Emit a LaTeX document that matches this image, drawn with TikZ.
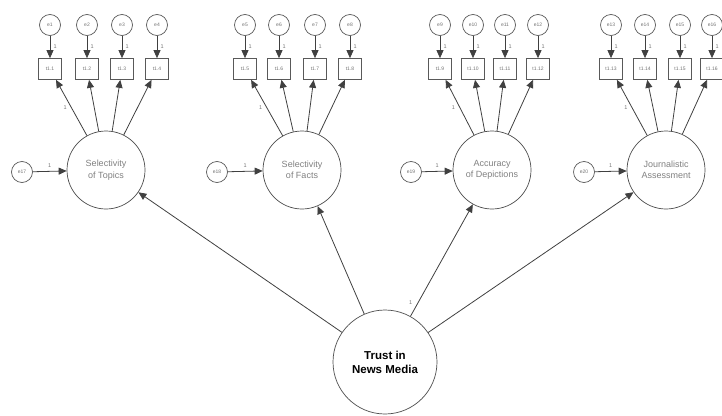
\documentclass[tikz,border=0pt]{standalone}
\usepackage{fontspec}
\setmainfont{Liberation Sans}
\usetikzlibrary{arrows.meta}
\begin{document}
\begin{tikzpicture}[x=1pt,y=-1pt,
    err/.style={circle,draw=black!65,line width=.7pt,minimum size=21pt,inner sep=0pt,font=\fontsize{5}{6}\selectfont,text=black!55},
    ind/.style={rectangle,draw=black!65,line width=.7pt,minimum width=23pt,minimum height=21pt,inner sep=0pt,font=\fontsize{5}{6}\selectfont,text=black!55},
    lat/.style={circle,draw=black!70,line width=.7pt,minimum size=78pt,inner sep=0pt,align=center,font=\fontsize{9}{11.5}\selectfont,text=black!50},
    pth/.style={-{Triangle[length=8pt,width=7pt]},draw=black!75,line width=.8pt},
    one/.style={font=\fontsize{5.5}{6}\selectfont,text=black!55}]
        \useasboundingbox (0,0) rectangle (722,415);

        % first factor
        \node[err] (e1) at (50,25) {e1};
        \node[err] (e2) at (87,25) {e2};
        \node[err] (e3) at (122,25) {e3};
        \node[err] (e4) at (157,25) {e4};
        \node[ind] (t1) at (50,69) {t1.1};
        \node[ind] (t2) at (87,69) {t1.2};
        \node[ind] (t3) at (122,69) {t1.3};
        \node[ind] (t4) at (157,69) {t1.4};
        \node[lat] (topics) at (106,170) {Selectivity\\of Topics};
        \node[err] (e17) at (22,172) {e17};

        % second factor
        \node[err] (e5) at (245,25) {e5};
        \node[err] (e6) at (279,25) {e6};
        \node[err] (e7) at (315,25) {e7};
        \node[err] (e8) at (350,25) {e8};
        \node[ind] (t5) at (245,69) {t1.5};
        \node[ind] (t6) at (279,69) {t1.6};
        \node[ind] (t7) at (315,69) {t1.7};
        \node[ind] (t8) at (350,69) {t1.8};
        \node[lat] (facts) at (302,170) {Selectivity\\of Facts};
        \node[err] (e18) at (217,172) {e18};

        % third factor
        \node[err] (e9) at (440,25) {e9};
        \node[err] (e10) at (473,25) {e10};
        \node[err] (e11) at (505,25) {e11};
        \node[err] (e12) at (538,25) {e12};
        \node[ind] (t9) at (440,69) {t1.9};
        \node[ind] (t10) at (473,69) {t1.10};
        \node[ind] (t11) at (505,69) {t1.11};
        \node[ind] (t12) at (538,69) {t1.12};
        \node[lat] (depict) at (492,170) {Accuracy\\of Depictions};
        \node[err] (e19) at (411,172) {e19};

        % fourth factor
        \node[err] (e13) at (611,25) {e13};
        \node[err] (e14) at (645,25) {e14};
        \node[err] (e15) at (680,25) {e15};
        \node[err] (e16) at (712,25) {e16};
        \node[ind] (t13) at (611,69) {t1.13};
        \node[ind] (t14) at (645,69) {t1.14};
        \node[ind] (t15) at (680,69) {t1.15};
        \node[ind] (t16) at (712,69) {t1.16};
        \node[lat] (assess) at (666,170) {Journalistic\\Assessment};
        \node[err] (e20) at (584,172) {e20};

        \node[lat,minimum size=104pt,font=\fontsize{11.5}{14}\selectfont\bfseries,text=black] (trust) at (385,362) {Trust in\\News Media};

        % errors to indicators
        \draw[pth] (e1) -- node[one,right] {1} (t1);
        \draw[pth] (e2) -- node[one,right] {1} (t2);
        \draw[pth] (e3) -- node[one,right] {1} (t3);
        \draw[pth] (e4) -- node[one,right] {1} (t4);
        \draw[pth] (e5) -- node[one,right] {1} (t5);
        \draw[pth] (e6) -- node[one,right] {1} (t6);
        \draw[pth] (e7) -- node[one,right] {1} (t7);
        \draw[pth] (e8) -- node[one,right] {1} (t8);
        \draw[pth] (e9) -- node[one,right] {1} (t9);
        \draw[pth] (e10) -- node[one,right] {1} (t10);
        \draw[pth] (e11) -- node[one,right] {1} (t11);
        \draw[pth] (e12) -- node[one,right] {1} (t12);
        \draw[pth] (e13) -- node[one,right] {1} (t13);
        \draw[pth] (e14) -- node[one,right] {1} (t14);
        \draw[pth] (e15) -- node[one,right] {1} (t15);
        \draw[pth] (e16) -- node[one,right] {1} (t16);

        % loadings
        \draw[pth] (topics) -- node[one,pos=.5,left=1pt] {1} (t1);
        \draw[pth] (topics) -- (t2);
        \draw[pth] (topics) -- (t3);
        \draw[pth] (topics) -- (t4);
        \draw[pth] (facts) -- node[one,pos=.5,left=1pt] {1} (t5);
        \draw[pth] (facts) -- (t6);
        \draw[pth] (facts) -- (t7);
        \draw[pth] (facts) -- (t8);
        \draw[pth] (depict) -- node[one,pos=.5,left=1pt] {1} (t9);
        \draw[pth] (depict) -- (t10);
        \draw[pth] (depict) -- (t11);
        \draw[pth] (depict) -- (t12);
        \draw[pth] (assess) -- node[one,pos=.5,left=1pt] {1} (t13);
        \draw[pth] (assess) -- (t14);
        \draw[pth] (assess) -- (t15);
        \draw[pth] (assess) -- (t16);

        % disturbances
        \draw[pth] (e17) -- node[one,above] {1} (topics);
        \draw[pth] (e18) -- node[one,above] {1} (facts);
        \draw[pth] (e19) -- node[one,above] {1} (depict);
        \draw[pth] (e20) -- node[one,above] {1} (assess);

        % second order
        \draw[pth] (trust) -- (topics);
        \draw[pth] (trust) -- (facts);
        \draw[pth] (trust) -- node[one,pos=.12,left=2pt] {1} (depict);
        \draw[pth] (trust) -- (assess);
\end{tikzpicture}
\end{document}
